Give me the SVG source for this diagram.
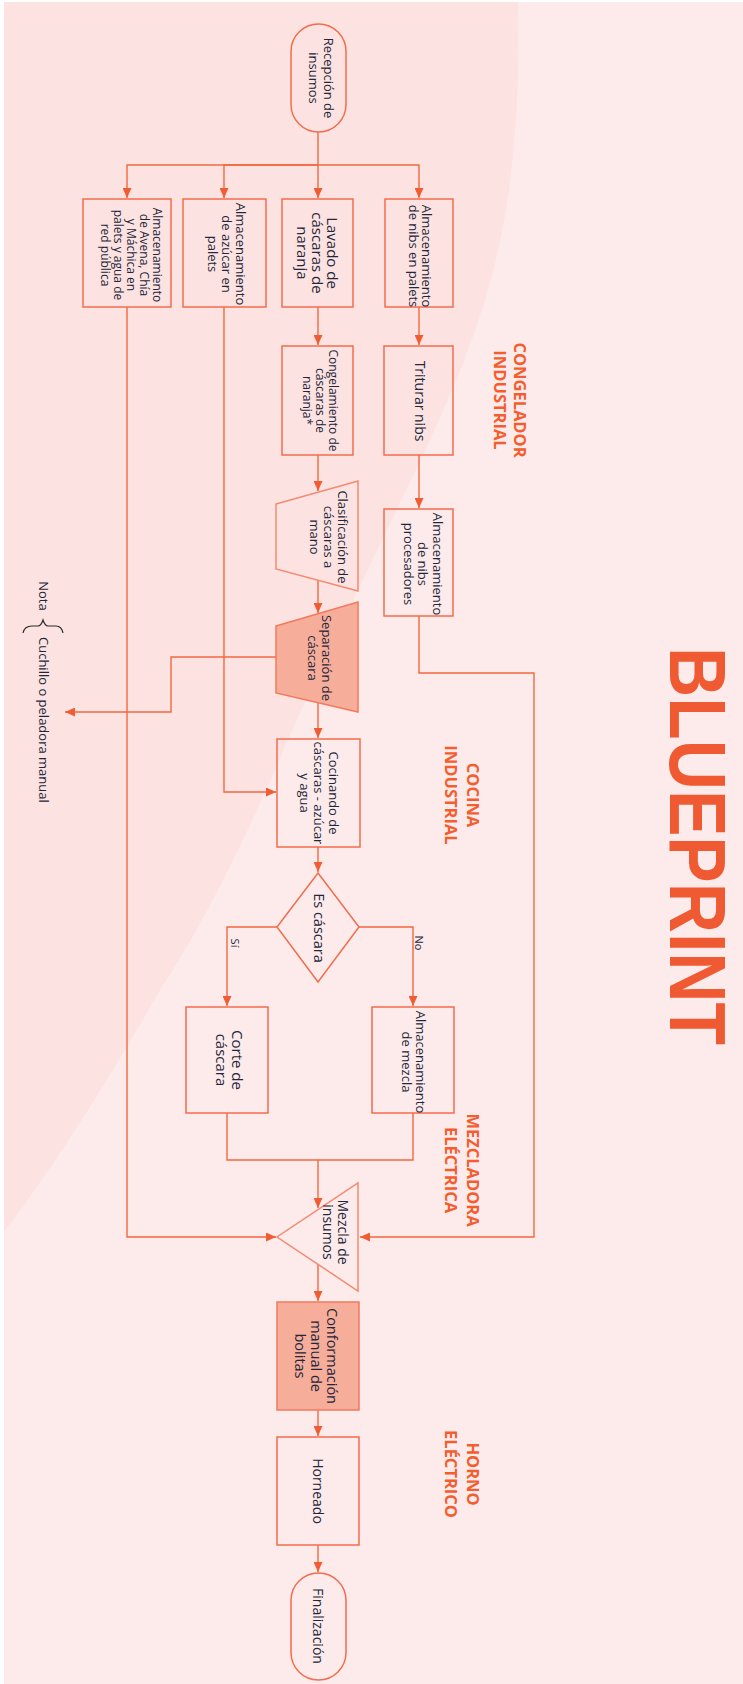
<svg xmlns="http://www.w3.org/2000/svg" width="743" height="1684" viewBox="0 0 743 1684">
<defs>
<style>
.t{font-family:"Open Sans","Liberation Sans",sans-serif;fill:#23263a;text-anchor:middle}
.lbl{font-family:"Open Sans","Liberation Sans",sans-serif;font-weight:700;fill:#f45d2e;font-size:16.5px;text-anchor:middle}
.n{fill:none;stroke:#f36c4d;stroke-width:1.5}
.tz{fill:none;stroke:#f58a70;stroke-width:1.5}
.hl{fill:#f6ad9a;stroke:#f37a5c;stroke-width:1.5}
.c{fill:none;stroke:#f2683f;stroke-width:1.4}
</style>
<marker id="ah" viewBox="0 0 10 9" refX="10" refY="4.5" markerWidth="10" markerHeight="9" markerUnits="userSpaceOnUse" orient="auto">
<path d="M0,0 L10,4.5 L0,9 Z" fill="#f25c33"/>
</marker>
</defs>
<rect x="0" y="0" width="743" height="1684" fill="#ffffff"/>
<rect x="4" y="2" width="739" height="1682" fill="#fdebeb"/>
<path d="M518,2 C521,120 510,220 485,300 C455,400 400,500 358,590 C330,650 300,710 275,770 C240,850 200,930 160,990 C120,1060 60,1160 4,1232 L4,2 Z" fill="#fce3e1"/>

<text font-family="'Liberation Sans','Open Sans',sans-serif" font-weight="700" font-size="80" fill="#f05a32" transform="translate(670,647) rotate(90)" textLength="398" lengthAdjust="spacingAndGlyphs">BLUEPRINT</text>

<g id="labels">
<text class="lbl" transform="translate(514,400) rotate(90)"><tspan x="0" y="0">CONGELADOR</tspan><tspan x="0" dy="20">INDUSTRIAL</tspan></text>
<text class="lbl" transform="translate(467,795) rotate(90)"><tspan x="0" y="0">COCINA</tspan><tspan x="0" dy="22">INDUSTRIAL</tspan></text>
<text class="lbl" transform="translate(467,1170) rotate(90)"><tspan x="0" y="0">MEZCLADORA</tspan><tspan x="0" dy="22">ELÉCTRICA</tspan></text>
<text class="lbl" transform="translate(467,1474) rotate(90)"><tspan x="0" y="0">HORNO</tspan><tspan x="0" dy="22">ELÉCTRICO</tspan></text>
</g>

<g id="connectors">
<path class="c" d="M318,132 V198" marker-end="url(#ah)"/>
<path class="c" d="M318,165 H127 V198" marker-end="url(#ah)"/>
<path class="c" d="M318,165 H224 V198" marker-end="url(#ah)"/>
<path class="c" d="M318,165 H419 V198" marker-end="url(#ah)"/>
<path class="c" d="M318,307 V345" marker-end="url(#ah)"/>
<path class="c" d="M419,307 V345" marker-end="url(#ah)"/>
<path class="c" d="M318,455 V491" marker-end="url(#ah)"/>
<path class="c" d="M419,455 V508" marker-end="url(#ah)"/>
<path class="c" d="M318,580 V613" marker-end="url(#ah)"/>
<path class="c" d="M318,703 V738" marker-end="url(#ah)"/>
<path class="c" d="M276,657 H171 V712 H65" marker-end="url(#ah)"/>
<path class="c" d="M127,307 V1237 H276" marker-end="url(#ah)"/>
<path class="c" d="M224,307 V792 H276" marker-end="url(#ah)"/>
<path class="c" d="M318,847 V872" marker-end="url(#ah)"/>
<path class="c" d="M277,927 H227 V1006" marker-end="url(#ah)"/>
<path class="c" d="M359,927 H413 V1006" marker-end="url(#ah)"/>
<path class="c" d="M227,1113 V1160 H413 V1113"/>
<path class="c" d="M318,1160 V1208" marker-end="url(#ah)"/>
<path class="c" d="M419,616 V673 H534 V1237 H360" marker-end="url(#ah)"/>
<path class="c" d="M318,1264 V1301" marker-end="url(#ah)"/>
<path class="c" d="M318,1410 V1436" marker-end="url(#ah)"/>
<path class="c" d="M318,1545 V1572" marker-end="url(#ah)"/>
</g>

<g id="recepcion">
<rect class="n" x="291" y="24" width="55" height="108" rx="27.5"/>
<text class="t" font-size="13" transform="translate(323.5,78) rotate(90)"><tspan x="0" y="0">Recepción de</tspan><tspan x="0" dy="15">insumos</tspan></text>
</g>
<g id="avena">
<rect class="n" x="83" y="199" width="88" height="108"/>
<text class="t" font-size="12" transform="translate(152.8,255) rotate(90)"><tspan x="0" y="0">Almacenamiento</tspan><tspan x="0" dy="13">de Avena, Chía</tspan><tspan x="0" dy="13">y Máchica en</tspan><tspan x="0" dy="13">palets y agua de</tspan><tspan x="0" dy="13">red pública</tspan></text>
</g>
<g id="azucar">
<rect class="n" x="183" y="199" width="83" height="108"/>
<text class="t" font-size="13" transform="translate(235.5,254) rotate(90)"><tspan x="0" y="0">Almacenamiento</tspan><tspan x="0" dy="14">de azúcar en</tspan><tspan x="0" dy="14">palets</tspan></text>
</g>
<g id="lavado">
<rect class="n" x="282" y="199" width="71" height="108"/>
<text class="t" font-size="15" transform="translate(326.5,253) rotate(90)"><tspan x="0" y="0">Lavado de</tspan><tspan x="0" dy="15">cáscaras de</tspan><tspan x="0" dy="15">naranja</tspan></text>
</g>
<g id="nibs-palets">
<rect class="n" x="385" y="199" width="68" height="108"/>
<text class="t" font-size="13" transform="translate(422,256) rotate(90)"><tspan x="0" y="0">Almacenamiento</tspan><tspan x="0" dy="13.5">de nibs en palets</tspan></text>
</g>
<g id="congelamiento">
<rect class="n" x="282" y="346" width="71" height="109"/>
<text class="t" font-size="12" transform="translate(328.8,400.5) rotate(90)"><tspan x="0" y="0">Congelamiento de</tspan><tspan x="0" dy="13">cáscaras de</tspan><tspan x="0" dy="13">naranja*</tspan></text>
</g>
<g id="triturar">
<rect class="n" x="384" y="346" width="69" height="109"/>
<text class="t" font-size="14" transform="translate(415,401) rotate(90)">Triturar nibs</text>
</g>
<g id="clasificacion">
<polygon class="tz" points="276,504 358,481 358,591 276,569"/>
<text class="t" font-size="13" transform="translate(337.5,537) rotate(90)"><tspan x="0" y="0">Clasificación de</tspan><tspan x="0" dy="14">cáscaras a</tspan><tspan x="0" dy="14">mano</tspan></text>
</g>
<g id="nibs-procesadores">
<rect class="n" x="384" y="509" width="69" height="107"/>
<text class="t" font-size="13" transform="translate(432.5,564) rotate(90)"><tspan x="0" y="0">Almacenamiento</tspan><tspan x="0" dy="14.5">de nibs</tspan><tspan x="0" dy="14.5">procesadores</tspan></text>
</g>
<g id="separacion">
<polygon class="hl" points="276,626 358,602 358,712 276,693"/>
<text class="t" font-size="13" transform="translate(321.5,658) rotate(90)"><tspan x="0" y="0">Separación de</tspan><tspan x="0" dy="13.5">cáscara</tspan></text>
</g>
<g id="nota">
<text class="t" font-size="13" transform="translate(38.5,596) rotate(90)">Nota</text>
<path d="M23,633 C24,628 27,626 32,626 L38,626 C41,626 42,623 43,620 C44,623 45,626 48,626 L56,626 C60,626 62,628 63,633" fill="none" stroke="#2b2b2b" stroke-width="1.2"/>
<text class="t" font-size="13" style="text-anchor:start" transform="translate(38.5,637) rotate(90)">Cuchillo o peladora manual</text>
</g>
<g id="cocinando">
<rect class="n" x="277" y="739" width="83" height="108"/>
<text class="t" font-size="13" transform="translate(328.5,793) rotate(90)"><tspan x="0" y="0">Cocinando de</tspan><tspan x="0" dy="14.5">cáscaras - azúcar</tspan><tspan x="0" dy="14.5">y agua</tspan></text>
</g>
<g id="es-cascara">
<polygon class="n" points="318,873 359,927 318,982 277,927"/>
<text class="t" font-size="14.5" transform="translate(314,928) rotate(90)">Es cáscara</text>
<text class="t" font-size="11" transform="translate(231,943) rotate(90)">Sí</text>
<text class="t" font-size="11" transform="translate(415,943) rotate(90)">No</text>
</g>
<g id="corte">
<rect class="n" x="186" y="1007" width="82" height="106"/>
<text class="t" font-size="15" transform="translate(232,1060) rotate(90)"><tspan x="0" y="0">Corte de</tspan><tspan x="0" dy="16">cáscara</tspan></text>
</g>
<g id="almacenamiento-mezcla">
<rect class="n" x="372" y="1007" width="82" height="106"/>
<text class="t" font-size="13" transform="translate(415.5,1062) rotate(90)"><tspan x="0" y="0">Almacenamiento</tspan><tspan x="0" dy="13.5">de mezcla</tspan></text>
</g>
<g id="mezcla">
<polygon class="tz" points="358,1183 358,1291 277,1237"/>
<text class="t" font-size="14" transform="translate(338,1232) rotate(90)"><tspan x="0" y="0">Mezcla de</tspan><tspan x="0" dy="15">insumos</tspan></text>
</g>
<g id="conformacion">
<rect class="hl" x="277" y="1302" width="82" height="108"/>
<text class="t" font-size="14.5" transform="translate(327,1356) rotate(90)"><tspan x="0" y="0">Conformación</tspan><tspan x="0" dy="16">manual de</tspan><tspan x="0" dy="16">bolitas</tspan></text>
</g>
<g id="horneado">
<rect class="n" x="277" y="1437" width="82" height="108"/>
<text class="t" font-size="14" transform="translate(313,1491) rotate(90)">Horneado</text>
</g>
<g id="finalizacion">
<rect class="n" x="291" y="1573" width="55" height="107" rx="27.5"/>
<text class="t" font-size="14" transform="translate(313,1626) rotate(90)">Finalización</text>
</g>
</svg>
